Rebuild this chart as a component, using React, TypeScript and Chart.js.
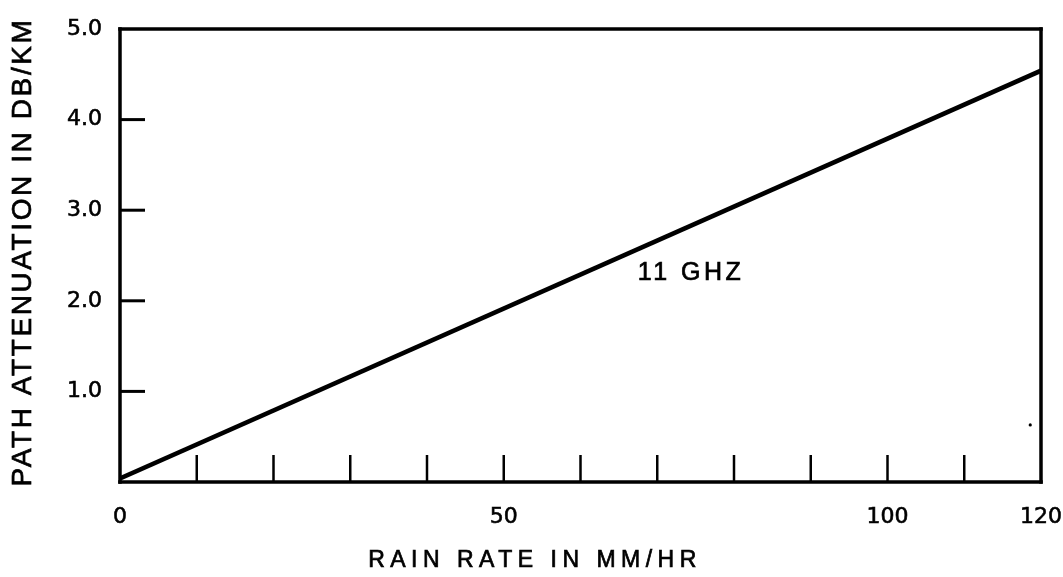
import React, { useEffect, useRef } from "react";
import { Chart, registerables } from "chart.js";

Chart.register(...registerables);

// Data
const rainRate: number[] = [0, 120];
const attenuation11GHz: number[] = [0.04, 4.54];
const strayDotX: number[] = [118.6];
const strayDotY: number[] = [0.63];
const xTickValues: number[] = [0, 10, 20, 30, 40, 50, 60, 70, 80, 90, 100, 110, 120];
const xLabeled: number[] = [0, 50, 100, 120];
const yTickValues: number[] = [1, 2, 3, 4, 5];
const xTitle = "RAIN RATE IN MM/HR";
const yTitle = "PATH ATTENUATION IN DB/KM";
const curveLabel = "11 GHZ";
const curveLabelPos = { x: 74.4, y: 2.31 };

const FONT_FAMILY = "'Liberation Sans', Arial, Helvetica, sans-serif";

function strokeFill(ctx: any, text: string, x: number, y: number) {
  ctx.strokeText(text, x, y);
  ctx.fillText(text, x, y);
}

const framePlugin = {
  id: "frameAndTicks",
  afterDraw(chart: any) {
    const { ctx } = chart;
    const xs = chart.scales.x;
    const ys = chart.scales.y;
    const left = xs.getPixelForValue(xs.min);
    const right = xs.getPixelForValue(xs.max);
    const top = ys.getPixelForValue(ys.max);
    const bottom = ys.getPixelForValue(ys.min);
    ctx.save();
    ctx.strokeStyle = "#000";
    ctx.lineCap = "square";
    ctx.lineWidth = 3.5;
    // frame: each side as its own stroke
    const sides: number[][] = [
      [left, top, right, top],
      [right, top, right, bottom],
      [left, bottom, right, bottom],
      [left, top, left, bottom],
    ];
    sides.forEach(([x1, y1, x2, y2]) => {
      ctx.beginPath();
      ctx.moveTo(x1, y1);
      ctx.lineTo(x2, y2);
      ctx.stroke();
    });
    // inner x ticks
    ctx.lineWidth = 2.5;
    ctx.lineCap = "butt";
    xTickValues.forEach((v) => {
      if (v === xs.min || v === xs.max) return;
      const px = xs.getPixelForValue(v);
      ctx.beginPath();
      ctx.moveTo(px, bottom);
      ctx.lineTo(px, bottom - 27);
      ctx.stroke();
    });
    // inner y ticks
    ctx.lineWidth = 3;
    yTickValues.forEach((v) => {
      if (v === ys.max) return;
      const py = ys.getPixelForValue(v);
      ctx.beginPath();
      ctx.moveTo(left, py);
      ctx.lineTo(left + 25, py);
      ctx.stroke();
    });
    // titles
    ctx.fillStyle = "#000";
    ctx.strokeStyle = "#000";
    ctx.lineWidth = 0.7;
    ctx.textBaseline = "middle";
    ctx.textAlign = "center";
    (ctx as any).letterSpacing = "5.5px";
    ctx.font = `23px ${FONT_FAMILY}`;
    strokeFill(ctx, xTitle, 535, 561);
    (ctx as any).letterSpacing = "2.6px";
    ctx.font = `28px ${FONT_FAMILY}`;
    ctx.translate(23, 252);
    ctx.rotate(-Math.PI / 2);
    strokeFill(ctx, yTitle, 0, 0);
    ctx.setTransform(1, 0, 0, 1, 0, 0);
    // curve label
    (ctx as any).letterSpacing = "3.5px";
    ctx.font = `25px ${FONT_FAMILY}`;
    strokeFill(ctx, curveLabel, xs.getPixelForValue(curveLabelPos.x), ys.getPixelForValue(curveLabelPos.y));
    (ctx as any).letterSpacing = "0px";
    ctx.restore();
  },
};

export default function App() {
  const ref = useRef<HTMLCanvasElement | null>(null);
  useEffect(() => {
    if (!ref.current) return;
    const chart = new Chart(ref.current, {
      type: "scatter",
      data: {
        datasets: [
          {
            label: curveLabel,
            data: rainRate.map((x, i) => ({ x, y: attenuation11GHz[i] })),
            showLine: true,
            borderColor: "#000",
            borderWidth: 4.5,
            pointRadius: 0,
            fill: false,
          },
          {
            label: "dot",
            data: strayDotX.map((x, i) => ({ x, y: strayDotY[i] })),
            showLine: false,
            pointRadius: 1.6,
            pointBackgroundColor: "#000",
            pointBorderWidth: 0,
          },
        ],
      },
      options: {
        animation: false,
        responsive: false,
        layout: { padding: { left: 0, right: 22, top: 29, bottom: 0 } },
        plugins: { legend: { display: false }, tooltip: { enabled: false } },
        scales: {
          x: {
            type: "linear",
            min: 0,
            max: 120,
            afterFit: (s: any) => {
              s.height = 95;
              s.paddingLeft = 0;
              s.paddingRight = 0;
            },
            afterBuildTicks: (s: any) => {
              s.ticks = xTickValues.map((v) => ({ value: v }));
            },
            grid: { display: false, drawTicks: false },
            border: { display: false },
            ticks: {
              autoSkip: false,
              maxRotation: 0,
              padding: 22,
              color: "#000",
              textStrokeColor: "#000",
              textStrokeWidth: 0.6,
              font: { family: "'DejaVu Sans', sans-serif", size: 22 },
              callback: (v: any) => (xLabeled.includes(Number(v)) ? String(v) : ""),
            },
          },
          y: {
            type: "linear",
            min: 0,
            max: 5,
            afterFit: (s: any) => {
              s.width = 120;
              s.paddingTop = 0;
              s.paddingBottom = 0;
            },
            afterBuildTicks: (s: any) => {
              s.ticks = yTickValues.map((v) => ({ value: v }));
            },
            grid: { display: false, drawTicks: false },
            border: { display: false },
            ticks: {
              autoSkip: false,
              padding: 18,
              color: "#000",
              textStrokeColor: "#000",
              textStrokeWidth: 0.6,
              font: { family: "'DejaVu Sans', sans-serif", size: 22 },
              callback: (v: any) => Number(v).toFixed(1),
            },
          },
        },
      },
      plugins: [framePlugin],
    });
    return () => chart.destroy();
  }, []);
  return (
    <div
      style={{
        position: "absolute",
        left: 0,
        top: 0,
        width: 1063,
        height: 577,
        overflow: "hidden",
        background: "#fff",
      }}
    >
      <canvas ref={ref} width={1063} height={577} style={{ display: "block", width: 1063, height: 577 }} />
    </div>
  );
}
